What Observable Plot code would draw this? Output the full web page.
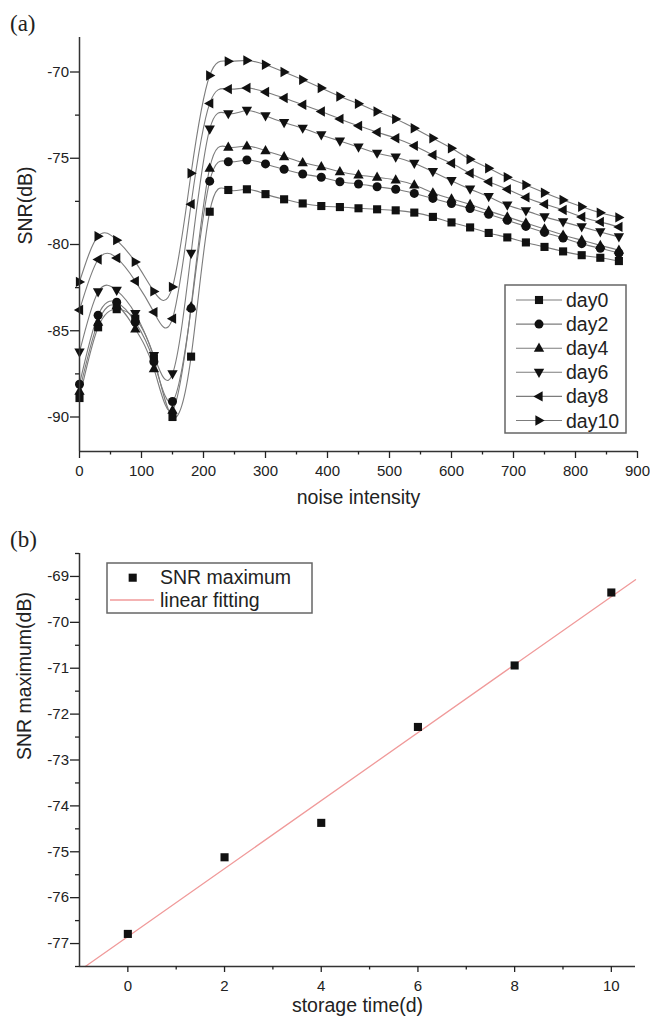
<!DOCTYPE html>
<html><head><meta charset="utf-8">
<script src="https://cdn.jsdelivr.net/npm/d3@7"></script>
<script src="https://cdn.jsdelivr.net/npm/@observablehq/plot@0.6"></script>
<style>
body{margin:0;background:#fff;}
#wrap{position:relative;width:650px;height:1021px;overflow:hidden;background:#fff;}
.panel{position:absolute;left:0;}
#overlay{position:absolute;left:0;top:0;pointer-events:none;}
</style></head><body><div id="wrap"></div>
<script>
// ---------- Panel (a) data ----------
const noise = [0,30,60,90,120,150,180,210,240,270,300,330,360,390,420,450,480,510,540,570,600,630,660,690,720,750,780,810,840,870];
const day0  = [-88.9,-84.8,-83.75,-84.3,-86.6,-90.0,-86.5,-78.1,-76.84,-76.8,-77.08,-77.38,-77.62,-77.77,-77.83,-77.9,-77.96,-78.02,-78.15,-78.4,-78.72,-79.01,-79.33,-79.59,-79.88,-80.14,-80.4,-80.62,-80.77,-80.96];
const day2  = [-88.1,-84.1,-83.35,-84.5,-86.8,-89.1,-83.7,-76.33,-75.2,-75.1,-75.33,-75.64,-75.91,-76.1,-76.36,-76.49,-76.65,-76.8,-77.04,-77.33,-77.62,-77.91,-78.25,-78.6,-78.95,-79.3,-79.62,-79.95,-80.22,-80.49];
const day4  = [-88.5,-84.5,-83.55,-84.9,-87.2,-89.6,-83.6,-75.57,-74.36,-74.29,-74.56,-74.9,-75.25,-75.49,-75.78,-75.97,-76.1,-76.26,-76.55,-77.0,-77.35,-77.68,-78.05,-78.4,-78.75,-79.1,-79.45,-79.75,-80.05,-80.33];
const day6  = [-86.24,-82.75,-82.66,-84.01,-86.44,-87.5,-80.52,-73.31,-72.42,-72.23,-72.54,-72.93,-73.26,-73.65,-74.0,-74.36,-74.71,-74.94,-75.29,-75.78,-76.3,-76.79,-77.23,-77.72,-78.05,-78.4,-78.69,-78.98,-79.27,-79.56];
const day8  = [-83.8,-80.87,-80.78,-82.12,-83.92,-84.3,-77.66,-71.82,-70.99,-70.93,-71.16,-71.51,-71.9,-72.29,-72.72,-73.12,-73.49,-73.84,-74.28,-74.81,-75.29,-75.87,-76.36,-76.8,-77.27,-77.66,-78.0,-78.4,-78.69,-78.98];
const day10 = [-82.17,-79.52,-79.75,-81.01,-82.72,-82.46,-75.87,-70.2,-69.38,-69.33,-69.58,-70.0,-70.45,-70.93,-71.42,-71.84,-72.29,-72.73,-73.26,-73.84,-74.42,-75.06,-75.58,-76.1,-76.55,-77.0,-77.42,-77.81,-78.16,-78.43];
const seriesNames = ["day0","day2","day4","day6","day8","day10"];
const xTicksA = [0,100,200,300,400,500,600,700,800,900];
const xMinorA = [50,150,250,350,450,550,650,750,850];
const yTicksA = [-90,-85,-80,-75,-70];
const yMinorA = [-87.5,-82.5,-77.5,-72.5];

// ---------- Panel (b) data ----------
const storage = [0,2,4,6,8,10];
const snrMax  = [-76.79,-75.12,-74.37,-72.28,-70.94,-69.35];
const fitX = [-0.88,10.5];
const fitY = [-77.5,-69.07];
const xTicksB = [0,2,4,6,8,10];
const xMinorB = [1,3,5,7,9];
const yTicksB = [-77,-76,-75,-74,-73,-72,-71,-70,-69];
const yMinorB = [-77.5,-76.5,-75.5,-74.5,-73.5,-72.5,-71.5,-70.5,-69.5,-68.5];

// ---------- symbols ----------
function tri(angle){
  return {draw(ctx, size){
    const r = Math.sqrt(size/Math.PI);
    const pts = [[0,-1.25*r],[1.15*r,0.8*r],[-1.15*r,0.8*r]];
    const c = Math.cos(angle), s = Math.sin(angle);
    pts.forEach(([x,y],i)=>{const X = x*c - y*s, Y = x*s + y*c; if(i) ctx.lineTo(X,Y); else ctx.moveTo(X,Y);});
    ctx.closePath();
  }};
}
const symSquare = {draw(ctx,size){const h = Math.sqrt(size/Math.PI)*0.9; ctx.rect(-h,-h,2*h,2*h);}};
const symCircle = {draw(ctx,size){const r = Math.sqrt(size/Math.PI); ctx.moveTo(r,0); ctx.arc(0,0,r,0,2*Math.PI);}};
const symbols = [symSquare, symCircle, tri(0), tri(Math.PI), tri(-Math.PI/2), tri(Math.PI/2)];
const values = [day0, day2, day4, day6, day8, day10];

const font = '"Liberation Sans", Arial, Helvetica, sans-serif';
const tickFmt = d => String(d);
const TF = 15;

const longA = seriesNames.flatMap((name, k) => values[k].map((v, i) => ({x: noise[i], y: v, name})));

const plotA = Plot.plot({
  width: 650, height: 510,
  marginTop: 37, marginBottom: 59, marginLeft: 79, marginRight: 13,
  style: {fontFamily: font, fontSize: "15px", color: "#222", background: "transparent", overflow: "visible"},
  x: {domain: [0, 900], label: null},
  y: {domain: [-92, -68], label: null},
  marks: [
    Plot.line(longA, {x: "x", y: "y", z: "name", curve: "natural", stroke: "#7c7c7c", strokeWidth: 1.1}),
    ...seriesNames.map((name, k) =>
      Plot.dot(longA.filter(d => d.name === name), {x: "x", y: "y", symbol: symbols[k], r: 4.5, fill: "#111", stroke: "none"})),
    Plot.ruleX([0], {stroke: "#333", strokeWidth: 1.5}),
    Plot.ruleY([-92], {stroke: "#333", strokeWidth: 1.5}),
    Plot.axisX(xTicksA, {tickSize: 7, tickPadding: 7, tickFormat: tickFmt, label: null, strokeWidth: 1.3, fontSize: TF}),
    Plot.axisX(xMinorA, {tickSize: 3.5, tickFormat: () => "", label: null, strokeWidth: 1.3}),
    Plot.axisY(yTicksA, {tickSize: 9, tickPadding: 1.5, tickFormat: tickFmt, label: null, strokeWidth: 1.3, fontSize: TF}),
    Plot.axisY(yMinorA, {tickSize: 4, tickFormat: () => "", label: null, strokeWidth: 1.3}),
    Plot.text(["noise intensity"], {text: d => d, frameAnchor: "bottom", dy: 46.5, lineAnchor: "middle", fontSize: 19.5, fill: "#222"}),
    Plot.text(["SNR(dB)"], {text: d => d, frameAnchor: "left", dx: -54, rotate: -90, lineAnchor: "middle", fontSize: 19.5, fill: "#222"})
  ]
});

const ptsB = storage.map((x, i) => ({x, y: snrMax[i]}));
const fitB = fitX.map((x, i) => ({x, y: fitY[i]}));

const plotB = Plot.plot({
  width: 650, height: 511,
  marginTop: 43, marginBottom: 55, marginLeft: 79, marginRight: 15,
  style: {fontFamily: font, fontSize: "15px", color: "#222", background: "transparent", overflow: "visible"},
  x: {domain: [-1, 10.5], label: null},
  y: {domain: [-77.5, -68.5], label: null},
  marks: [
    Plot.line(fitB, {x: "x", y: "y", stroke: "#f09a9a", strokeWidth: 1.3}),
    Plot.dot(ptsB, {x: "x", y: "y", symbol: symSquare, r: 4.5, fill: "#111", stroke: "none"}),
    Plot.ruleX([-1], {stroke: "#333", strokeWidth: 1.5}),
    Plot.ruleY([-77.5], {stroke: "#333", strokeWidth: 1.5}),
    Plot.axisX(xTicksB, {tickSize: 6, tickPadding: 8, tickFormat: tickFmt, label: null, strokeWidth: 1.3, fontSize: TF}),
    Plot.axisX(xMinorB, {tickSize: 3.5, tickFormat: () => "", label: null, strokeWidth: 1.3}),
    Plot.axisY(yTicksB, {tickSize: 9, tickPadding: 1.5, tickFormat: tickFmt, label: null, strokeWidth: 1.3, fontSize: TF}),
    Plot.axisY(yMinorB, {tickSize: 4, tickFormat: () => "", label: null, strokeWidth: 1.3}),
    Plot.text(["storage time(d)"], {text: d => d, frameAnchor: "bottom", dy: 39, lineAnchor: "middle", fontSize: 19.5, fill: "#222"}),
    Plot.text(["SNR maximum(dB)"], {text: d => d, frameAnchor: "left", dx: -55, rotate: -90, lineAnchor: "middle", fontSize: 19.5, fill: "#222"})
  ]
});

const wrap = document.getElementById("wrap");
plotA.classList.add("panel"); plotA.style.top = "0px";
plotB.classList.add("panel"); plotB.style.top = "510px";
wrap.appendChild(plotA);
wrap.appendChild(plotB);

// ---------- overlay: panel tags and legends ----------
const ov = d3.select(wrap).append("svg").attr("id", "overlay").attr("width", 650).attr("height", 1021)
  .attr("font-family", font);
ov.append("text").attr("x", 10).attr("y", 31).attr("font-family", '"Liberation Serif", "Times New Roman", serif')
  .attr("font-size", 23).attr("fill", "#222").text("(a)");
ov.append("text").attr("x", 10).attr("y", 547).attr("font-family", '"Liberation Serif", "Times New Roman", serif')
  .attr("font-size", 23).attr("fill", "#222").text("(b)");

// legend (a)
const lgA = ov.append("g");
lgA.append("rect").attr("x", 505).attr("y", 285).attr("width", 121).attr("height", 148)
  .attr("fill", "white").attr("stroke", "#666").attr("stroke-width", 1.5);
seriesNames.forEach((name, k) => {
  const cy = 300 + k * 24.1;
  lgA.append("line").attr("x1", 516).attr("x2", 562).attr("y1", cy).attr("y2", cy)
    .attr("stroke", "#7c7c7c").attr("stroke-width", 1.1);
  const p = d3.path(); symbols[k].draw(p, Math.PI * 4.5 * 4.5);
  lgA.append("path").attr("d", p.toString()).attr("transform", `translate(539,${cy})`).attr("fill", "#111");
  lgA.append("text").attr("x", 566).attr("y", cy + 7).attr("font-size", 19.5).attr("fill", "#222").text(name);
});

// legend (b)
const lgB = ov.append("g");
lgB.append("rect").attr("x", 107).attr("y", 563).attr("width", 205).attr("height", 50)
  .attr("fill", "white").attr("stroke", "#666").attr("stroke-width", 1.5);
{
  const p = d3.path(); symSquare.draw(p, Math.PI * 4.5 * 4.5);
  lgB.append("path").attr("d", p.toString()).attr("transform", "translate(132.7,577.7)").attr("fill", "#111");
}
lgB.append("line").attr("x1", 110).attr("x2", 154).attr("y1", 600).attr("y2", 600)
  .attr("stroke", "#f09a9a").attr("stroke-width", 1.3);
lgB.append("text").attr("x", 160).attr("y", 584).attr("font-size", 19.5).attr("fill", "#222").text("SNR maximum");
lgB.append("text").attr("x", 160).attr("y", 606.5).attr("font-size", 19.5).attr("fill", "#222").text("linear fitting");
</script>
</body></html>
